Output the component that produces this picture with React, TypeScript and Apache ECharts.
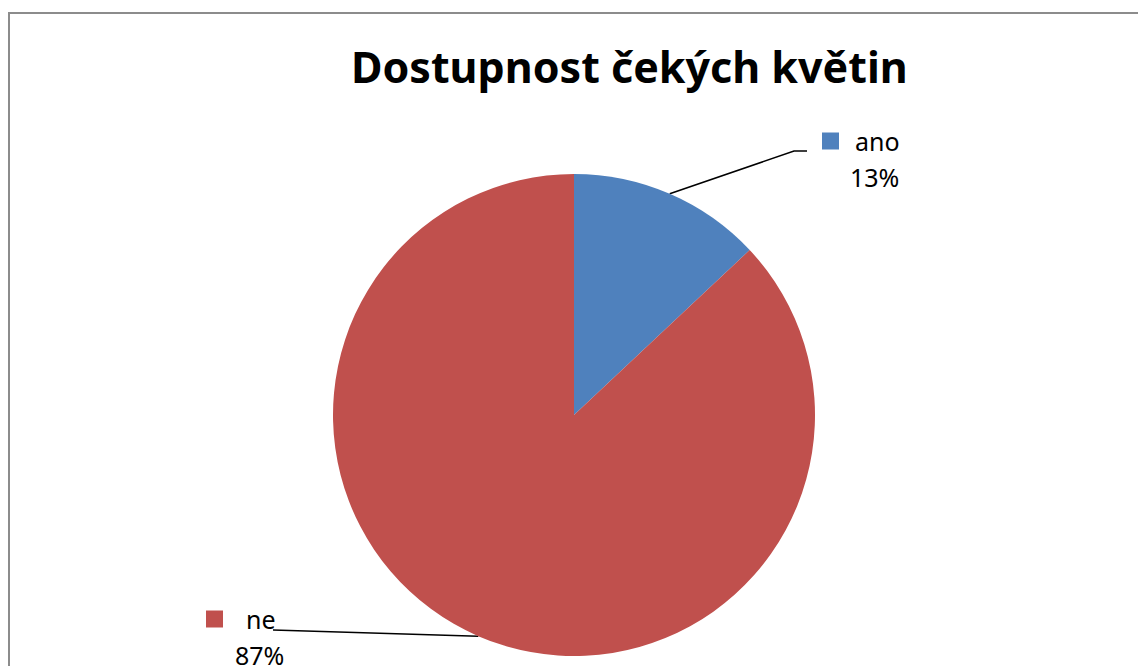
import React, { useEffect, useRef } from "react";
import * as echarts from "echarts";

const titleText = "Dostupnost čekých květin";
const categories = ["ano", "ne"];
const values = [13, 87];
const percentLabels = ["13%", "87%"];
const colors = ["#4F81BD", "#C0504D"];

// label placement (block top-left), key-to-name gap, value offset
const labelPos = [
  { x: 822, y: 123, gap: 16, valOff: 28, line: [[-28, 28], [-15, 28]] },
  { x: 206, y: 601, gap: 23, valOff: 29, line: [[67, 29]] },
];

export default function App() {
  const ref = useRef<HTMLDivElement>(null);
  useEffect(() => {
    if (!ref.current) return;
    const chart = echarts.init(ref.current, undefined, { renderer: "svg" });
    const data = categories.map((c, i) => ({
      name: c,
      value: values[i],
      itemStyle: { color: colors[i] },
      label: {
        formatter: `{sq|}{n|${c}}\n{v|${percentLabels[i]}}`,
        rich: {
          sq: { width: 17, height: 17, backgroundColor: colors[i] },
          n: {
            fontSize: 25,
            fontFamily: "Noto Sans",
            color: "#000",
            padding: [0, 0, 0, labelPos[i].gap],
            lineHeight: 36,
          },
          v: {
            fontSize: 25,
            fontFamily: "Noto Sans",
            color: "#000",
            padding: [0, 0, 0, labelPos[i].valOff],
            lineHeight: 36,
          },
        },
      },
    }));
    chart.setOption({
      animation: false,
      backgroundColor: "#fff",
      title: {
        text: titleText,
        left: 346,
        top: 40,
        textStyle: {
          fontFamily: "Noto Sans",
          fontWeight: "bold",
          fontSize: 43,
          color: "#000",
        },
      },
      graphic: [
        {
          type: "rect",
          shape: { x: 9, y: 13, width: 1300, height: 800 },
          style: { fill: "none", stroke: "#8c8c8c", lineWidth: 2 },
          silent: true,
        },
      ],
      series: [
        {
          type: "pie",
          center: [574, 415],
          radius: 241,
          startAngle: 90,
          clockwise: true,
          data,
          itemStyle: { borderWidth: 0 },
          label: {
            show: true,
            position: "outside",
            lineHeight: 36,
          },
          labelLine: {
            show: true,
            lineStyle: { color: "#000", width: 1.5 },
          },
          labelLayout: (params: any) => {
            const i = params.dataIndex;
            const lp = labelPos[i];
            const p0 = params.labelLinePoints ? params.labelLinePoints[0] : [0, 0];
            const pts = [p0, ...lp.line.map((d) => [lp.x + d[0], lp.y + d[1]])];
            return {
              x: lp.x,
              y: lp.y,
              align: "left",
              verticalAlign: "top",
              labelLinePoints: pts,
            };
          },
          emphasis: { disabled: true },
        },
      ],
    });
    return () => chart.dispose();
  }, []);
  return (
    <div style={{ position: "absolute", left: 0, top: 0, width: 1138, height: 666, overflow: "hidden" }}>
      <div ref={ref} style={{ width: 1138, height: 666 }} />
    </div>
  );
}
